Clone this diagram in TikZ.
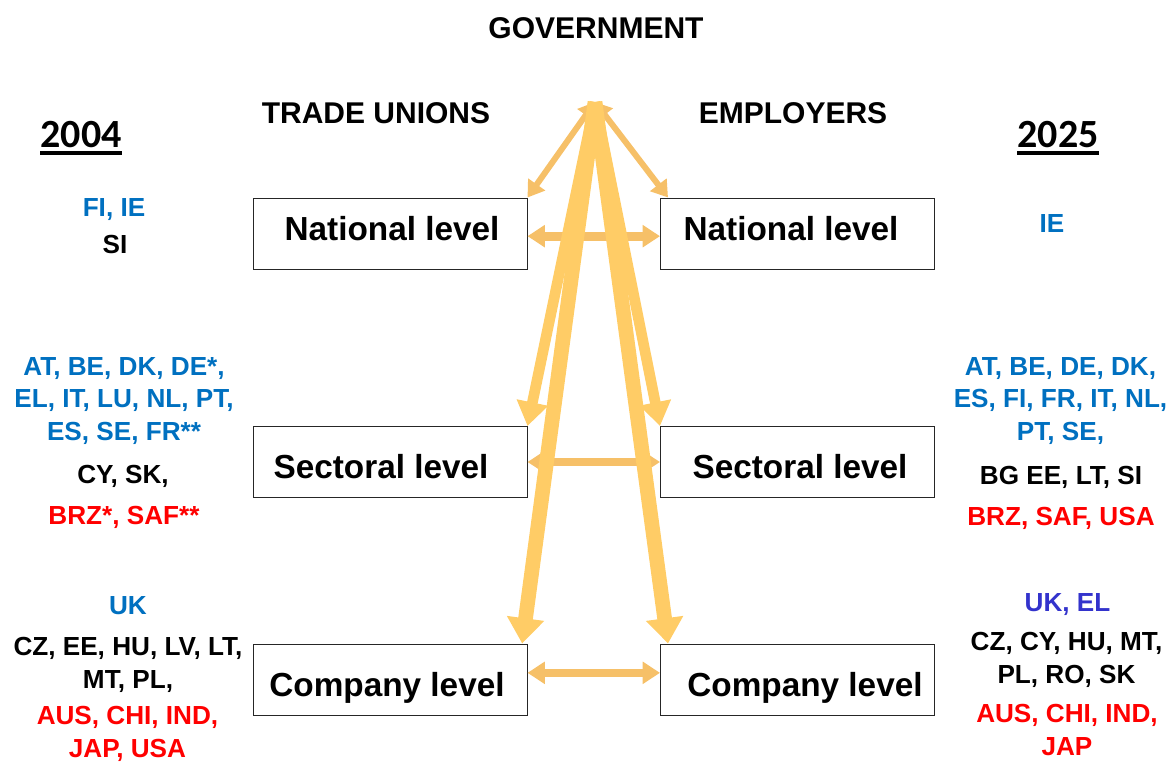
\documentclass[tikz,border=0pt]{standalone}
\usepackage{fontspec}
\setmainfont{Liberation Sans}
\newfontfamily\anofont{Carlito}
\usetikzlibrary{arrows.meta}
\definecolor{setaforte}{RGB}{255,204,102}
\definecolor{setafraca}{RGB}{246,192,104}
\definecolor{azul}{RGB}{0,112,192}
\definecolor{vermelho}{RGB}{255,0,0}
\definecolor{roxo}{RGB}{51,51,204}
\begin{document}
\begin{tikzpicture}[x=0.75pt,y=-0.75pt,
	nivel/.style={draw=black!85,line width=0.75pt,minimum width=205.5pt,minimum height=53.25pt,inner sep=0pt},
	nomenivel/.style={font=\fontsize{25}{30}\selectfont\bfseries,anchor=base,inner sep=0pt},
	ator/.style={font=\fontsize{22.5}{27}\selectfont\bfseries,inner sep=0pt},
	ano/.style={font=\anofont\fontsize{30}{36}\selectfont\bfseries,anchor=base,inner sep=0pt},
	paises/.style={font=\fontsize{19.6}{24.3}\selectfont\bfseries,align=center,inner sep=0pt},
	diag/.style={setafraca,line width=4.5pt,{Triangle[length=12pt,width=15pt]}-{Triangle[length=12pt,width=15pt]}},
	horiz/.style={setafraca,line width=6.5pt,{Triangle[length=13pt,width=16pt]}-{Triangle[length=13pt,width=16pt]}},
	setor/.style={setaforte,line width=8pt,-{Triangle[length=18pt,width=23pt]}},
	empresa/.style={setaforte,line width=11pt,-{Triangle[length=19pt,width=27pt]}}] %Início do desenho
	\useasboundingbox (0,0) rectangle (1172,764);
		%Atores
	\node[ator] (gov) at (596,28) {GOVERNMENT};
	\node[ator] (sind) at (376,113) {TRADE UNIONS};
	\node[ator] (empr) at (793,113) {EMPLOYERS};
		%Anos
	\node[ano] (a04) at (81,147) {2004};
	\draw[line width=2.4pt] ([yshift=-4.5pt]a04.base west) -- ([yshift=-4.5pt]a04.base east);
	\node[ano] (a25) at (1058,147) {2025};
	\draw[line width=2.4pt] ([yshift=-4.5pt]a25.base west) -- ([yshift=-4.5pt]a25.base east);
		%Caixas
	\node[nivel] (natL) at (390,233.5) {};
	\node[nivel] (natR) at (797.5,233.5) {};
	\node[nivel] (secL) at (390,462) {};
	\node[nivel] (secR) at (797.5,462) {};
	\node[nivel] (comL) at (390,679.5) {};
	\node[nivel] (comR) at (797.5,679.5) {};
	\node[nomenivel] (natLt) at (392,240) {National level};
	\node[nomenivel] (natRt) at (791,240) {National level};
	\node[nomenivel] (secLt) at (381,478) {Sectoral level};
	\node[nomenivel] (secRt) at (800,478) {Sectoral level};
	\node[nomenivel] (comLt) at (387,696) {Company level};
	\node[nomenivel] (comRt) at (805,696) {Company level};
		%Setas
	\coordinate (apex) at (595,102);
	\draw[horiz] ([yshift=-2pt]natL.east) -- ([yshift=-2pt]natR.west);
	\draw[horiz] (secL.east) -- (secR.west);
	\draw[horiz] ([yshift=5pt]comL.east) -- ([yshift=5pt]comR.west);
	\draw[diag] (apex) -- (natL.north east);
	\draw[diag] (apex) -- ([xshift=6pt]natR.north west);
	\draw[setor] (apex) -- (secL.north east);
	\draw[setor] (apex) -- (secR.north west);
	\draw[empresa] (apex) -- ([xshift=-4pt]comL.north east);
	\draw[empresa] (apex) -- ([xshift=6pt]comR.north west);
		%Países 2004
	\node[paises,text=azul] (l04a) at (114,210) {FI, IE};
	\node[paises] (l04b) at (115,245) {SI};
	\node[paises,text=azul] (l04c) at (124,401) {AT, BE, DK, DE*,\\EL, IT, LU, NL, PT,\\ES, SE, FR**};
	\node[paises] (l04d) at (123,476) {CY, SK,};
	\node[paises,text=vermelho] (l04e) at (124,517) {BRZ*, SAF**};
	\node[paises,text=azul] (l04f) at (128,606) {UK};
	\node[paises] (l04g) at (128,665) {CZ, EE, HU, LV, LT,\\MT, PL,};
	\node[paises,text=vermelho] (l04h) at (127.5,734) {AUS, CHI, IND,\\JAP, USA};
		%Países 2025
	\node[paises,text=azul] (r25a) at (1052,224) {IE};
	\node[paises,text=azul] (r25b) at (1060.5,401) {AT, BE, DE, DK,\\ES, FI, FR, IT, NL,\\PT, SE,};
	\node[paises] (r25c) at (1061,477) {BG EE, LT, SI};
	\node[paises,text=vermelho] (r25d) at (1061,518) {BRZ, SAF, USA};
	\node[paises,text=roxo] (r25e) at (1067.5,605) {UK, EL};
	\node[paises] (r25f) at (1066.5,660) {CZ, CY, HU, MT,\\PL, RO, SK};
	\node[paises,text=vermelho] (r25g) at (1067,730) {AUS, CHI, IND,\\JAP};
\end{tikzpicture}
\end{document}
